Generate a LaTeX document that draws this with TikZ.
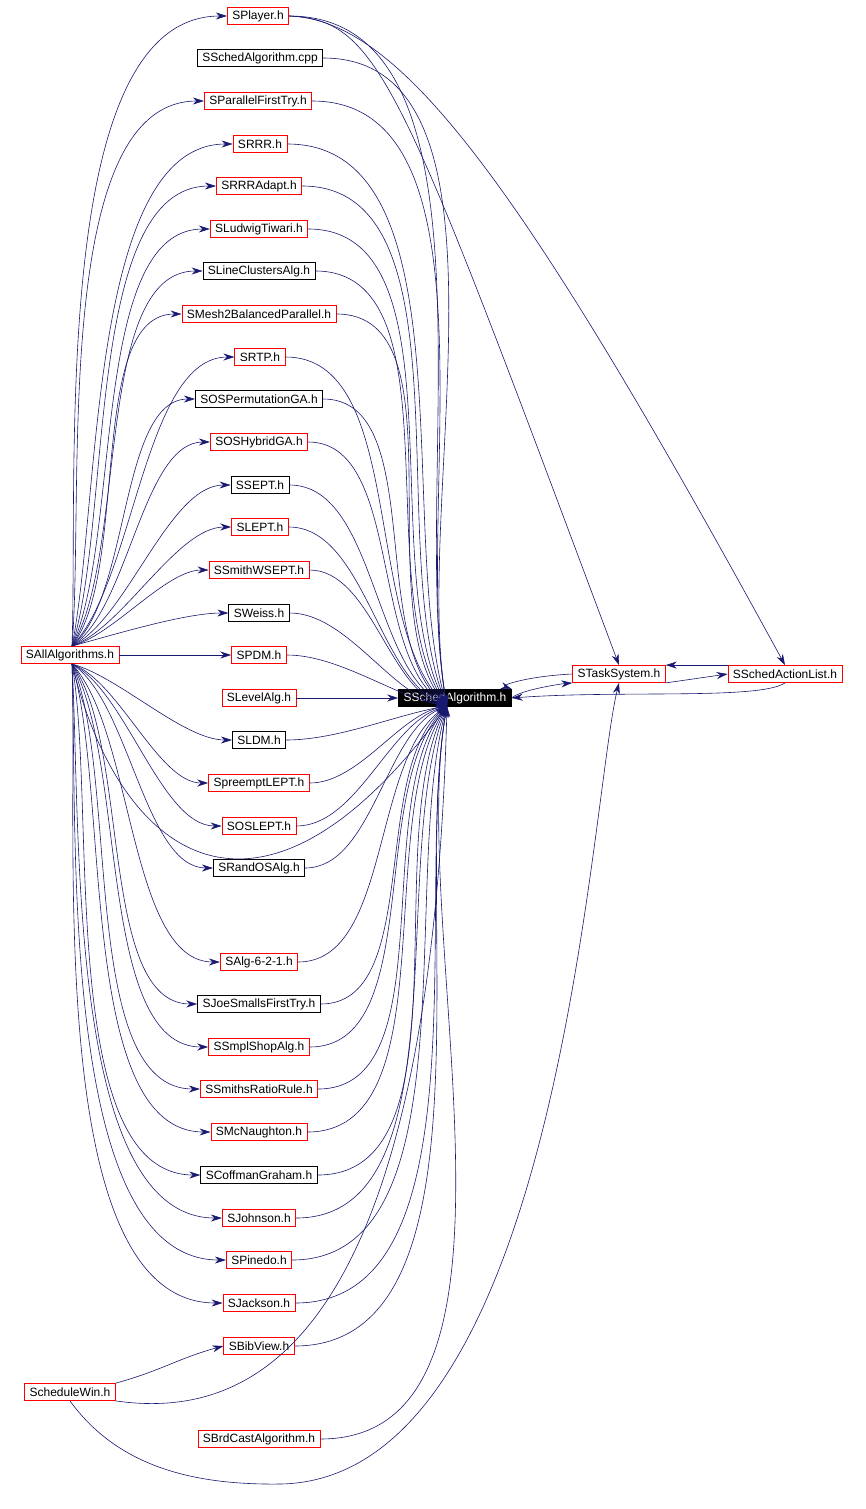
\documentclass[tikz,border=0pt]{standalone}
\usepackage{fontspec}
\setmainfont{Liberation Sans}
\usetikzlibrary{arrows.meta}
\definecolor{edge}{HTML}{191970}
\tikzset{
 box/.style={draw=red,line width=0.8pt,fill=white,font=\fontsize{12}{13}\selectfont,inner xsep=5pt,inner ysep=2pt,minimum height=17pt},
 bbox/.style={box,draw=black},
 cbox/.style={box,draw=black,fill=black,text=white},
 e/.style={draw=edge,line width=0.6pt,-{Stealth[length=11pt,width=7pt]}}
}
\begin{document}
\begin{tikzpicture}[x=1pt,y=-1pt]
\useasboundingbox (0,0) rectangle (865,1509);
\node[box] (n1) at (258,16) {SPlayer.h};
\node[bbox] (n2) at (260,58) {SSchedAlgorithm.cpp};
\node[box] (n3) at (258,101) {SParallelFirstTry.h};
\node[box] (n4) at (260,144) {SRRR.h};
\node[box] (n5) at (259,186) {SRRRAdapt.h};
\node[box] (n6) at (259,229) {SLudwigTiwari.h};
\node[bbox] (n7) at (259,271) {SLineClustersAlg.h};
\node[box] (n8) at (259,314) {SMesh2BalancedParallel.h};
\node[box] (n9) at (260,357) {SRTP.h};
\node[bbox] (n10) at (259,399) {SOSPermutationGA.h};
\node[box] (n11) at (259,442) {SOSHybridGA.h};
\node[bbox] (n12) at (260,485) {SSEPT.h};
\node[box] (n13) at (260,527) {SLEPT.h};
\node[box] (n14) at (259,570) {SSmithWSEPT.h};
\node[bbox] (n15) at (259,613) {SWeiss.h};
\node[box] (n16) at (259,655) {SPDM.h};
\node[box] (n17) at (259,698) {SLevelAlg.h};
\node[bbox] (n18) at (259,740) {SLDM.h};
\node[box] (n19) at (259,783) {SpreemptLEPT.h};
\node[box] (n20) at (259,826) {SOSLEPT.h};
\node[bbox] (n21) at (259,868) {SRandOSAlg.h};
\node[box] (n22) at (259,962) {SAlg-6-2-1.h};
\node[bbox] (n23) at (259,1004) {SJoeSmallsFirstTry.h};
\node[box] (n24) at (259,1047) {SSmplShopAlg.h};
\node[box] (n25) at (259,1089) {SSmithsRatioRule.h};
\node[box] (n26) at (259,1132) {SMcNaughton.h};
\node[bbox] (n27) at (259,1175) {SCoffmanGraham.h};
\node[box] (n28) at (259,1218) {SJohnson.h};
\node[box] (n29) at (259,1260) {SPinedo.h};
\node[box] (n30) at (259,1303) {SJackson.h};
\node[box] (n31) at (259,1346) {SBibView.h};
\node[box] (n32) at (259,1439) {SBrdCastAlgorithm.h};
\node[box] (all) at (70,655) {SAllAlgorithms.h};
\node[box] (win) at (70,1392) {ScheduleWin.h};
\node[cbox] (sa) at (455,698) {SSchedAlgorithm.h};
\node[box] (ts) at (619,674) {STaskSystem.h};
\node[box] (al) at (785,674) {SSchedActionList.h};
\coordinate (target) at (447,706);
\coordinate (allup) at (72,646);
\coordinate (alldn) at (72,664);
% from SAllAlgorithms
\foreach \i/\y in {1/16,3/101,4/144,5/186,6/229,7/271,8/314,9/357,10/399,11/442,12/485,13/527,14/570,15/613}{
  \pgfmathsetmacro{\o}{min(88,max(15,(655-\y)/6.5))}
  \draw[e] (allup) to[out=\o,in=180,looseness=0.7] (n\i.west);
}
\draw[e] (all.east) -- (n16.west);
\foreach \i/\y in {18/740,19/783,20/826,21/868,22/962,23/1004,24/1047,25/1089,26/1132,27/1175,28/1218,29/1260,30/1303}{
  \pgfmathsetmacro{\o}{min(88,max(15,(\y-655)/6.5))}
  \draw[e] (alldn) to[out=-\o,in=180,looseness=0.7] (n\i.west);
}
\draw[e] (alldn) .. controls (120,860) and (260,960) .. (target);
% to SSchedAlgorithm.h
\foreach \i/\y in {1/16,2/58,3/101,4/144,5/186,6/229,7/271,8/314,9/357,10/399,11/442,12/485,13/527,14/570,15/613,16/655}{
  \pgfmathsetmacro{\a}{max(100,min(170,180-(698-\y)/7.5))}
  \draw[e] (n\i.east) to[out=0,in=\a,looseness=0.8] (target);
}
\draw[e] (n17.east) -- (sa.west);
\foreach \i/\y in {18/740,19/783,20/826,21/868,22/962,23/1004,24/1047,25/1089,26/1132,27/1175,28/1218,29/1260,30/1303,31/1346,32/1439}{
  \pgfmathsetmacro{\a}{min(-100,max(-170,-180+(\y-698)/7.5))}
  \draw[e] (n\i.east) to[out=0,in=\a,looseness=0.8] (target);
}
\draw[e] (win.north east) to[out=15,in=195] (n31.west);
\draw[e] (win.south east) .. controls (250,1420) and (430,1350) .. (target);
\draw[e] (win.south) .. controls (120,1470) and (200,1485) .. (280,1484) .. controls (560,1480) and (590,800) .. (ts.south);
% right part
\draw[e] (n1.east) .. controls (380,20) and (400,80) .. (ts.north);
\draw[e] (n1.east) .. controls (400,20) and (520,180) .. (al.north);
\draw[e] (ts.west) .. controls (530,676) and (500,685) .. (sa.north east);
\draw[e] (sa.east) .. controls (520,690) and (560,684) .. (ts.south west);
\draw[e] (ts.south east) -- (al.west);
\draw[e] (al.north west) -- (ts.north east);
\draw[e] (al.south) .. controls (760,700) and (620,690) .. (sa.east);
\end{tikzpicture}
\end{document}
